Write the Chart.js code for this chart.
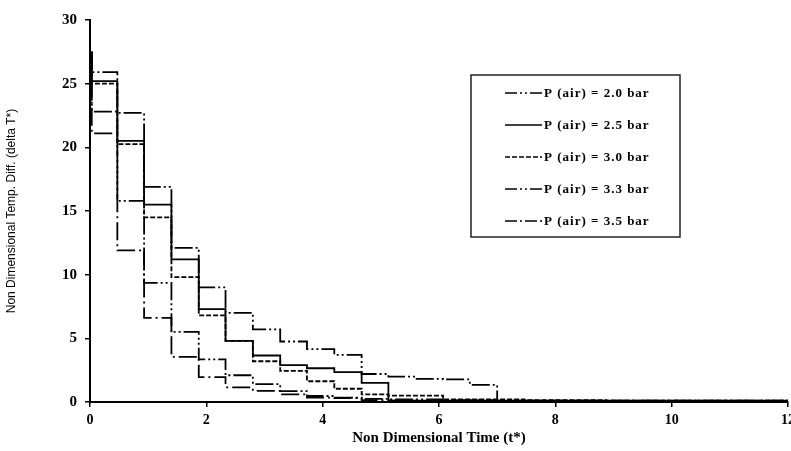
<!DOCTYPE html>
<html>
<head>
<meta charset="utf-8">
<script src="https://cdn.jsdelivr.net/npm/chart.js@4/dist/chart.umd.min.js"></script>
<style>
  html, body { margin: 0; padding: 0; background: #fff; overflow: hidden; }
  #wrap { width: 800px; height: 451px; }
</style>
</head>
<body>
<div id="wrap"><canvas id="chart"></canvas></div>
<script>
// step boundaries on the time axis (t*)
const stepTimes = [0.03, 0.47, 0.93, 1.40, 1.87, 2.33, 2.80, 3.27, 3.73, 4.20, 4.67, 5.13, 5.60, 6.07, 6.53, 7.00,
  7.47, 7.93, 8.40, 8.87, 9.33, 9.80, 10.27, 10.73, 11.20, 11.67];
const startValue = 27.5;

const labels = ['P (air) = 2.0 bar', 'P (air) = 2.5 bar', 'P (air) = 3.0 bar', 'P (air) = 3.3 bar', 'P (air) = 3.5 bar'];

// level held on each time step
const p20 = [25.9, 22.7, 16.9, 12.1, 9.0, 7.0, 5.7, 4.75, 4.15, 3.7, 2.2, 2.0, 1.82, 1.77, 1.35, 0];
const p25 = [25.2, 20.5, 15.5, 11.2, 7.3, 4.8, 3.65, 2.9, 2.65, 2.35, 1.5, 0.1];
const p30 = [25.0, 20.25, 14.5, 9.8, 6.8, 4.8, 3.2, 2.45, 1.63, 1.04, 0.6, 0.5, 0.5, 0.2, 0.2, 0.2, 0.15, 0.15, 0.15, 0.1];
const p33 = [22.8, 15.8, 9.35, 5.5, 3.35, 2.1, 1.4, 0.86, 0.47, 0.35, 0.25, 0.2, 0.2, 0.15, 0.15, 0.1];
const p35 = [21.1, 11.9, 6.6, 3.55, 1.95, 1.15, 0.88, 0.6, 0.34, 0.3, 0.15, 0.1, 0.05];

const xTicks = [0, 2, 4, 6, 8, 10, 12];
const yTicks = [0, 5, 10, 15, 20, 25, 30];

const series = [p20, p25, p30, p33, p35];
const dashes = [[18, 3, 2, 3, 2, 3], [], [5, 2], [18, 3, 2, 3, 2, 3], [18, 4, 2, 4]];

function toPoints(levels) {
  const pts = [{ x: stepTimes[0], y: startValue }];
  levels.forEach((v, i) => pts.push({ x: stepTimes[i], y: v }));
  pts.push({ x: 12, y: levels[levels.length - 1] });
  return pts;
}

const serif = "'Liberation Serif', 'DejaVu Serif', serif";

// legend box drawn inside the plot
const boxLegend = {
  id: 'boxLegend',
  afterDraw(chart) {
    const ctx = chart.ctx;
    ctx.save();
    ctx.strokeStyle = '#222';
    ctx.lineWidth = 1.5;
    ctx.setLineDash([]);
    ctx.strokeRect(471, 75, 209, 162);
    ctx.font = 'bold 13px ' + serif;
    ctx.letterSpacing = '1px';
    ctx.textBaseline = 'middle';
    ctx.fillStyle = '#000';
    chart.data.datasets.forEach((ds, i) => {
      const y = 93 + i * 32;
      ctx.beginPath();
      ctx.setLineDash(ds.borderDash.length ? [12, 3, 2, 3, 2, 3].slice(0, ds.borderDash.length) : []);
      if (i === 2) ctx.setLineDash([5, 2]);
      ctx.lineWidth = 1.6;
      ctx.strokeStyle = '#000';
      ctx.moveTo(505, y);
      ctx.lineTo(542, y);
      ctx.stroke();
      ctx.fillText(ds.label, 544, y + 1);
    });
    ctx.restore();
  }
};

new Chart(document.getElementById('chart'), {
  type: 'line',
  data: {
    datasets: series.map((s, i) => ({
      label: labels[i],
      data: toPoints(s),
      stepped: 'before',
      borderColor: '#000',
      borderWidth: 1.8,
      borderDash: dashes[i],
      pointRadius: 0,
      fill: false
    }))
  },
  options: {
    responsive: true,
    maintainAspectRatio: false,
    animation: false,
    layout: { padding: { top: 20, right: 4, left: 0, bottom: 0 } },
    plugins: { legend: { display: false }, tooltip: { enabled: false } },
    scales: {
      x: {
        type: 'linear',
        min: 0,
        max: 12,
        afterBuildTicks: (scale) => { scale.ticks = xTicks.map(v => ({ value: v })); },
        afterFit: (scale) => { scale.height = 49; },
        ticks: { color: '#000', font: { family: serif, size: 14, weight: 'bold' }, padding: 5, maxRotation: 0 },
        grid: { display: true, drawOnChartArea: false, drawTicks: true, tickLength: 5, color: '#000', lineWidth: 1.5 },
        border: { color: '#000', width: 2 },
        title: { display: true, text: 'Non Dimensional Time (t*)', color: '#000',
          font: { family: serif, size: 15, weight: 'bold' }, padding: { top: 2 } }
      },
      y: {
        min: 0,
        max: 30,
        afterBuildTicks: (scale) => { scale.ticks = yTicks.map(v => ({ value: v })); },
        afterFit: (scale) => { scale.width = 90; },
        ticks: { color: '#000', font: { family: serif, size: 15, weight: 'bold' }, padding: 8 },
        grid: { display: true, drawOnChartArea: false, drawTicks: true, tickLength: 5, color: '#000', lineWidth: 1.5 },
        border: { color: '#000', width: 2 },
        title: { display: true, text: 'Non Dimensional Temp. Diff. (delta T*)', color: '#000',
          font: { family: "'Liberation Sans Narrow', 'Liberation Sans', sans-serif", size: 12 }, padding: { top: 4, bottom: 0 } }
      }
    }
  },
  plugins: [boxLegend]
});
</script>
</body>
</html>
